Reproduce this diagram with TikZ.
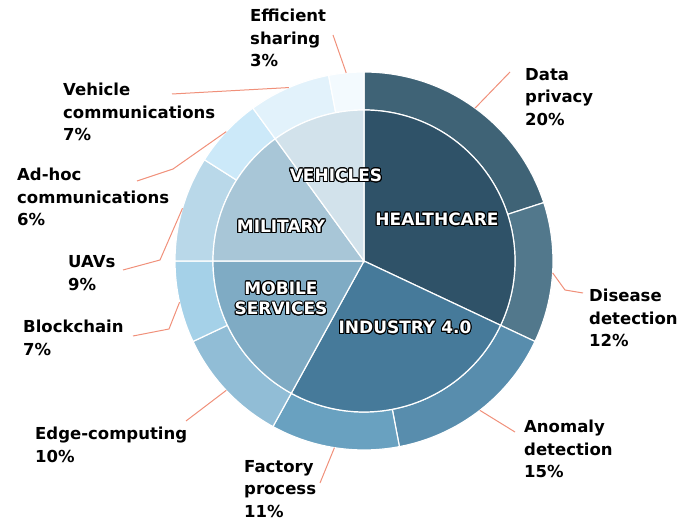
\documentclass[tikz,border=0pt]{standalone}
\usepackage{fontspec}
\setmainfont{DejaVu Sans}
\usepackage{contour}
\contourlength{1pt}

\definecolor{health}{HTML}{2F5268}
\definecolor{privacyc}{HTML}{3F6376}
\definecolor{diseasec}{HTML}{52788C}
\definecolor{industry}{HTML}{467A9A}
\definecolor{anomalyc}{HTML}{588DAD}
\definecolor{factoryc}{HTML}{69A1C0}
\definecolor{mobile}{HTML}{7FABC4}
\definecolor{edgec}{HTML}{91BDD6}
\definecolor{chainc}{HTML}{A5D1E8}
\definecolor{military}{HTML}{A8C6D7}
\definecolor{uavc}{HTML}{B9D8E9}
\definecolor{adhocc}{HTML}{CCE9F9}
\definecolor{vehicles}{HTML}{D2E2EB}
\definecolor{vcommc}{HTML}{E2F2FB}
\definecolor{sharec}{HTML}{F3FAFE}
\definecolor{leadc}{HTML}{F0907A}

\begin{document}
\begin{tikzpicture}[x=1pt, y=1pt,
    wedge/.style={draw=white, line width=1.2pt},
    sector/.style={text=white, align=center, inner sep=0pt,
        font=\bfseries\fontsize{17}{20.5}\selectfont},
    leaf/.style={anchor=north west, align=left, inner sep=0pt,
        font=\bfseries\fontsize{16.5}{22.5}\selectfont},
    lead/.style={draw=leadc, line width=1pt}
]
    \useasboundingbox (0,0) rectangle (689,522);

    \begin{scope}[shift={(364,261)}]
        % outer ring
        \draw[wedge, fill=privacyc] (90:189) arc[start angle=90, end angle=18, radius=189pt] -- (18:151) arc[start angle=18, end angle=90, radius=151pt] -- cycle;
        \draw[wedge, fill=diseasec] (18:189) arc[start angle=18, end angle=-25.2, radius=189pt] -- (-25.2:151) arc[start angle=-25.2, end angle=18, radius=151pt] -- cycle;
        \draw[wedge, fill=anomalyc] (-25.2:189) arc[start angle=-25.2, end angle=-79.2, radius=189pt] -- (-79.2:151) arc[start angle=-79.2, end angle=-25.2, radius=151pt] -- cycle;
        \draw[wedge, fill=factoryc] (-79.2:189) arc[start angle=-79.2, end angle=-118.8, radius=189pt] -- (-118.8:151) arc[start angle=-118.8, end angle=-79.2, radius=151pt] -- cycle;
        \draw[wedge, fill=edgec] (-118.8:189) arc[start angle=-118.8, end angle=-154.8, radius=189pt] -- (-154.8:151) arc[start angle=-154.8, end angle=-118.8, radius=151pt] -- cycle;
        \draw[wedge, fill=chainc] (-154.8:189) arc[start angle=-154.8, end angle=-180, radius=189pt] -- (-180:151) arc[start angle=-180, end angle=-154.8, radius=151pt] -- cycle;
        \draw[wedge, fill=uavc] (180:189) arc[start angle=180, end angle=147.6, radius=189pt] -- (147.6:151) arc[start angle=147.6, end angle=180, radius=151pt] -- cycle;
        \draw[wedge, fill=adhocc] (147.6:189) arc[start angle=147.6, end angle=126, radius=189pt] -- (126:151) arc[start angle=126, end angle=147.6, radius=151pt] -- cycle;
        \draw[wedge, fill=vcommc] (126:189) arc[start angle=126, end angle=100.8, radius=189pt] -- (100.8:151) arc[start angle=100.8, end angle=126, radius=151pt] -- cycle;
        \draw[wedge, fill=sharec] (100.8:189) arc[start angle=100.8, end angle=90, radius=189pt] -- (90:151) arc[start angle=90, end angle=100.8, radius=151pt] -- cycle;

        % inner ring
        \draw[wedge, fill=health] (0,0) -- (90:151) arc[start angle=90, end angle=-25.2, radius=151pt] -- cycle;
        \draw[wedge, fill=industry] (0,0) -- (-25.2:151) arc[start angle=-25.2, end angle=-118.8, radius=151pt] -- cycle;
        \draw[wedge, fill=mobile] (0,0) -- (-118.8:151) arc[start angle=-118.8, end angle=-180, radius=151pt] -- cycle;
        \draw[wedge, fill=military] (0,0) -- (180:151) arc[start angle=180, end angle=126, radius=151pt] -- cycle;
        \draw[wedge, fill=vehicles] (0,0) -- (126:151) arc[start angle=126, end angle=90, radius=151pt] -- cycle;

        % leader starts on the rim
        \coordinate (privacy-r) at (54:189);
        \coordinate (disease-r) at (-3.6:189);
        \coordinate (anomaly-r) at (-52.2:189);
        \coordinate (factory-r) at (-99:189);
        \coordinate (edge-r) at (-136.8:189);
        \coordinate (chain-r) at (-167.4:189);
        \coordinate (uav-r) at (163.8:189);
        \coordinate (adhoc-r) at (136.8:189);
        \coordinate (vcomm-r) at (113.4:189);
        \coordinate (share-r) at (95.4:189);
    \end{scope}

    \node[sector] (hc) at (437,302) {\contour{black}{HEALTHCARE}};
    \node[sector] (ind) at (405,194) {\contour{black}{INDUSTRY 4.0}};
    \node[sector] (mob) at (281,223) {\contour{black}{MOBILE}\\\contour{black}{SERVICES}};
    \node[sector] (mil) at (281,295) {\contour{black}{MILITARY}};
    \node[sector] (veh) at (336,346) {\contour{black}{VEHICLES}};

    \node[leaf] (privacy) at (525,454) {Data\\privacy\\20\%};
    \node[leaf] (disease) at (589,233) {Disease\\detection\\12\%};
    \node[leaf] (anomaly) at (524,102) {Anomaly\\detection\\15\%};
    \node[leaf] (factory) at (244,62) {Factory\\process\\11\%};
    \node[leaf] (edge) at (35,95) {Edge-computing\\10\%};
    \node[leaf] (chain) at (23,202) {Blockchain\\7\%};
    \node[leaf] (uav) at (68,266.5) {UAVs\\9\%};
    \node[leaf] (adhoc) at (17,354) {Ad-hoc\\communications\\6\%};
    \node[leaf] (vcomm) at (63,439) {Vehicle\\communications\\7\%};
    \node[leaf] (share) at (250,513) {Efficient\\sharing\\3\%};

    \coordinate (privacy-e) at (510,450);
    \coordinate (disease-b) at (565,232);
    \coordinate (disease-e) at (583,229);
    \coordinate (anomaly-e) at (515,90);
    \coordinate (factory-e) at (320,39);
    \coordinate (edge-e) at (186,101);
    \coordinate (chain-b) at (169,193);
    \coordinate (chain-e) at (133,186);
    \coordinate (uav-b) at (160,262);
    \coordinate (uav-e) at (123,252);
    \coordinate (adhoc-b) at (173,353);
    \coordinate (adhoc-e) at (137,341);
    \coordinate (vcomm-e) at (172,428);
    \coordinate (share-e) at (333,487);

    \draw[lead] (privacy-r) -- (privacy-e);
    \draw[lead] (disease-r) -- (disease-b) -- (disease-e);
    \draw[lead] (anomaly-r) -- (anomaly-e);
    \draw[lead] (factory-r) -- (factory-e);
    \draw[lead] (edge-r) -- (edge-e);
    \draw[lead] (chain-r) -- (chain-b) -- (chain-e);
    \draw[lead] (uav-r) -- (uav-b) -- (uav-e);
    \draw[lead] (adhoc-r) -- (adhoc-b) -- (adhoc-e);
    \draw[lead] (vcomm-r) -- (vcomm-e);
    \draw[lead] (share-r) -- (share-e);
\end{tikzpicture}
\end{document}
